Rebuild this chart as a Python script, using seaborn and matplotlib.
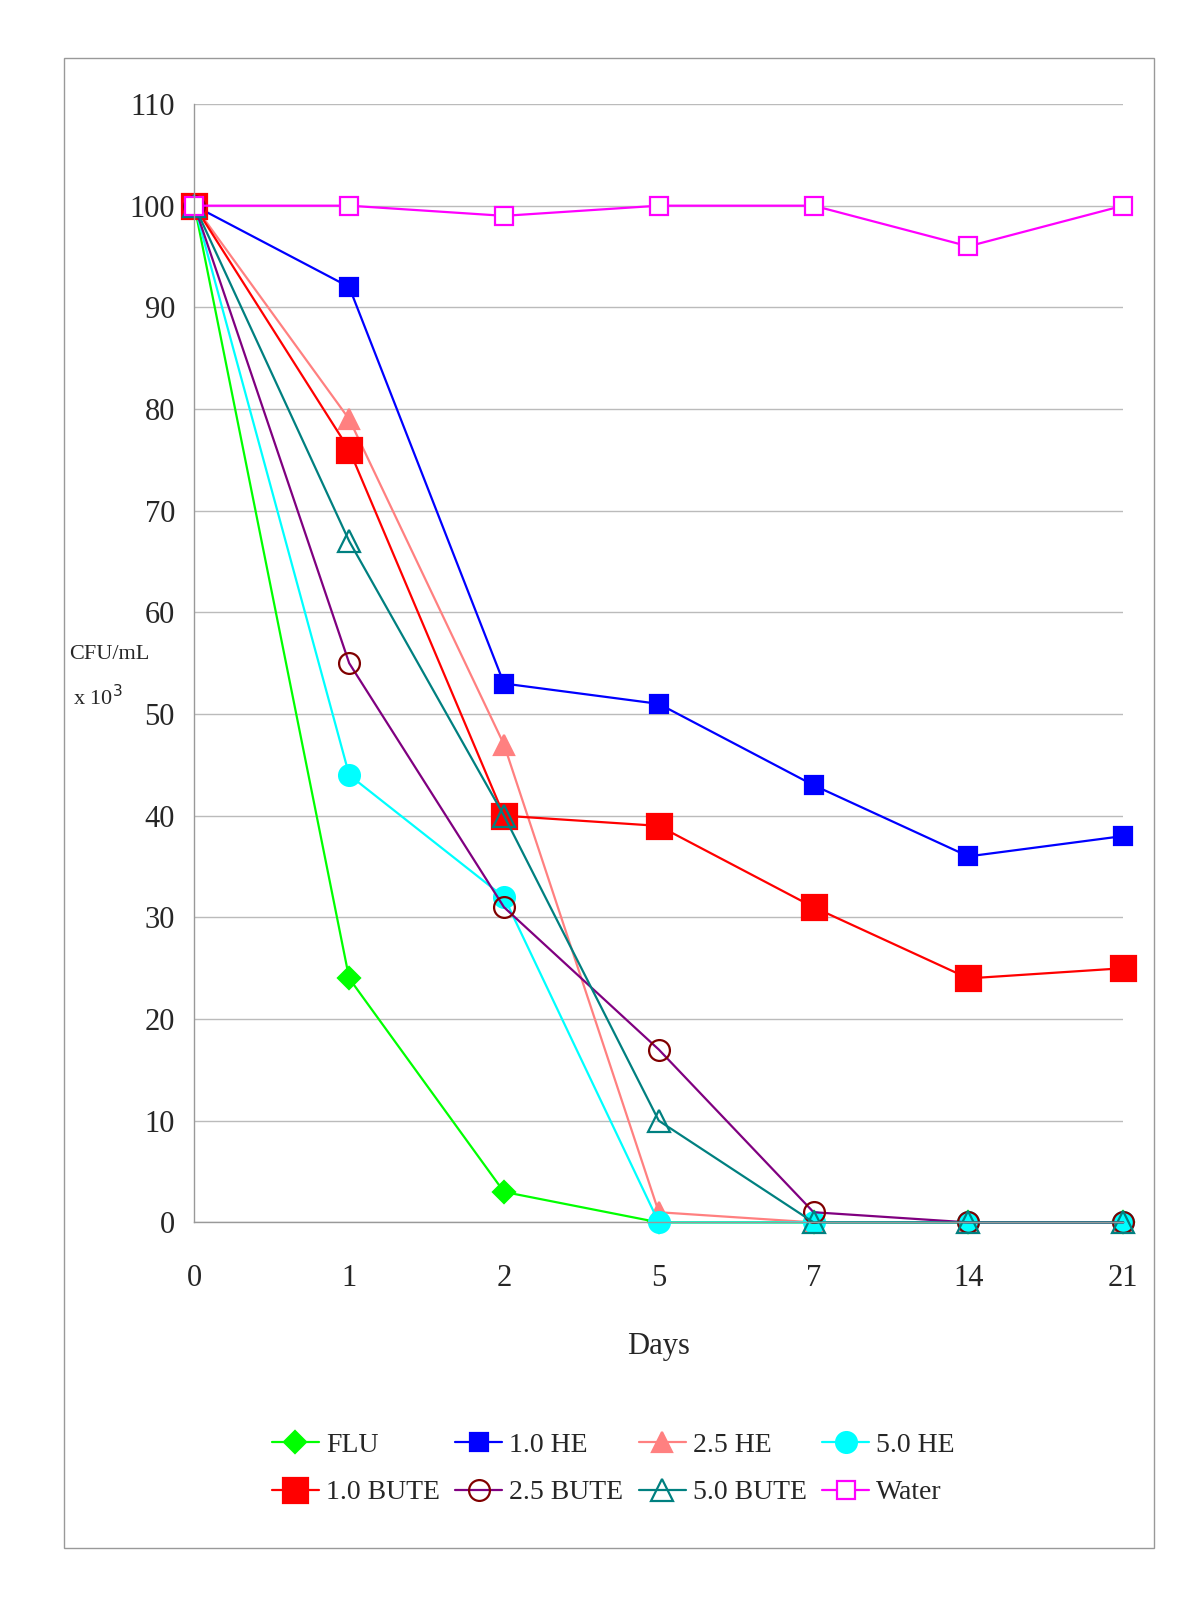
import matplotlib
matplotlib.use("Agg")
import matplotlib.pyplot as plt
import numpy as np
import pandas as pd
import seaborn as sns
from matplotlib.patches import Rectangle

days = ["0", "1", "2", "5", "7", "14", "21"]

flu = [100, 24, 3, 0, 0, 0, 0]
he_10 = [100, 92, 53, 51, 43, 36, 38]
he_25 = [100, 79, 47, 1, 0, 0, 0]
he_50 = [100, 44, 32, 0, 0, 0, 0]
bute_10 = [100, 76, 40, 39, 31, 24, 25]
bute_25 = [100, 55, 31, 17, 1, 0, 0]
bute_50 = [100, 67, 40, 10, 0, 0, 0]
water = [100, 100, 99, 100, 100, 96, 100]

series = {
    "FLU": flu,
    "1.0 HE": he_10,
    "2.5 HE": he_25,
    "5.0 HE": he_50,
    "1.0 BUTE": bute_10,
    "2.5 BUTE": bute_25,
    "5.0 BUTE": bute_50,
    "Water": water,
}

# line colour, marker, marker size, face colour, edge colour
styles = {
    "FLU": ("#00FF00", "D", 11, "#00FF00", "#00FF00"),
    "1.0 HE": ("#0000FF", "s", 13, "#0000FF", "#0000FF"),
    "2.5 HE": ("#FF8080", "^", 15, "#FF8080", "#FF8080"),
    "5.0 HE": ("#00FFFF", "o", 15, "#00FFFF", "#00FFFF"),
    "1.0 BUTE": ("#FF0000", "s", 18, "#FF0000", "#FF0000"),
    "2.5 BUTE": ("#800080", "o", 15, "none", "#800000"),
    "5.0 BUTE": ("#008080", "^", 16, "none", "#008080"),
    "Water": ("#FF00FF", "s", 13, "white", "#FF00FF"),
}

rows = []
for name, vals in series.items():
    for i, v in enumerate(vals):
        rows.append({"series": name, "pos": i, "value": v})
df = pd.DataFrame(rows)

sns.set_style("white")
plt.rcParams["font.family"] = ["Liberation Serif", "DejaVu Serif"]

fig = plt.figure(figsize=(12, 16), dpi=100)
ax = fig.add_axes([0.162, 0.236, 0.774, 0.699])

handles = {}
for name in series:
    color, marker, ms, fc, ec = styles[name]
    sub = df[df["series"] == name]
    sns.lineplot(data=sub, x="pos", y="value", ax=ax, color=color, lw=1.6,
                 marker=marker, markersize=ms, markerfacecolor=fc,
                 markeredgecolor=ec, markeredgewidth=1.6, legend=False)
    handles[name] = ax.lines[-1]
    handles[name].set_clip_on(False)

ax.set_xlim(0, 6)
ax.set_ylim(0, 110)
ax.set_yticks(np.arange(0, 111, 10))
ax.set_xticks(range(len(days)))
ax.set_xticklabels(days)
ax.yaxis.grid(True, color="#bbbbbb", lw=1)
ax.set_axisbelow(True)
for s in ["top", "right"]:
    ax.spines[s].set_visible(False)
for s in ["left", "bottom"]:
    ax.spines[s].set_color("#999999")
    ax.spines[s].set_linewidth(1)
ax.tick_params(axis="both", labelsize=22, length=6, color="#999999", direction="out")
ax.tick_params(axis="x", pad=24)
ax.tick_params(axis="y", pad=8)
ax.set_xlabel("Days", fontsize=22, labelpad=28)
ax.set_ylabel("")

fig.text(0.058, 0.591, "CFU/mL", fontsize=16, ha="left", va="center")
fig.text(0.061, 0.564, "x 10$^{3}$", fontsize=16, ha="left", va="center")

order = ["FLU", "1.0 BUTE", "1.0 HE", "2.5 BUTE", "2.5 HE", "5.0 BUTE", "5.0 HE", "Water"]
fig.legend([handles[n] for n in order], order, ncol=4, loc="center",
           bbox_to_anchor=(0.511, 0.082), frameon=False, fontsize=20,
           handlelength=1.7, columnspacing=0.55, labelspacing=0.8, handletextpad=0.25)

fig.patches.append(Rectangle((0.053, 0.0325), 0.909, 0.9315, transform=fig.transFigure,
                             fill=False, edgecolor="#999999", lw=1))

fig.savefig("out.png", dpi=100)
